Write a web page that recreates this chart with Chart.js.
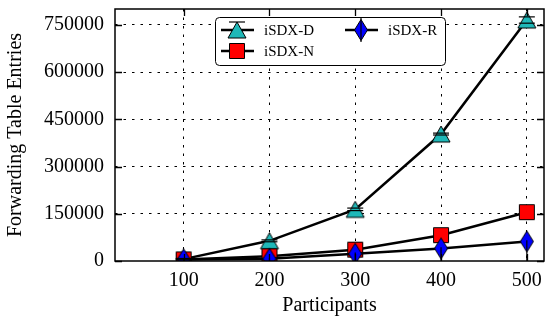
<!DOCTYPE html>
<html>
<head>
<meta charset="utf-8">
<script src="https://cdn.jsdelivr.net/npm/chart.js@4/dist/chart.umd.min.js"></script>
<style>
  html, body { margin: 0; padding: 0; background: #fff; }
  #wrap { width: 545px; height: 320px; }
</style>
</head>
<body>
<div id="wrap"><canvas id="chart" width="545" height="320"></canvas></div>
<script>
// data
const participants = [100, 200, 300, 400, 500];
const isdxD = [6000, 64000, 164000, 403000, 765000];
const isdxN = [5000, 15000, 36000, 82000, 155000];
const isdxR = [5000, 7000, 23000, 40000, 62000];
// error bars (below / above the value)
const dErr = [2000, 3000, 4000, 3000, 10000];
const rErrLow = [5000, 7000, 23000, 40000, 62000];
const rErrHigh = [2000, 3000, 4000, 4000, 4000];
const yTicks = [0, 150000, 300000, 450000, 600000, 750000];

const FONT = "'Liberation Serif', 'DejaVu Serif', serif";

// marker images, centred on their bounding box like matplotlib does
function makeMarker(kind, fill) {
  const c = document.createElement("canvas");
  c.width = 26; c.height = 26;
  const g = c.getContext("2d");
  const m = 13;
  g.beginPath();
  if (kind === "tri") {
    g.moveTo(m, m - 8); g.lineTo(m + 9, m + 8); g.lineTo(m - 9, m + 8);
  } else if (kind === "sq") {
    g.rect(m - 7.5, m - 7.5, 15, 15);
  } else {
    g.moveTo(m, m - 10.5); g.lineTo(m + 6.5, m); g.lineTo(m, m + 10.5); g.lineTo(m - 6.5, m);
  }
  g.closePath();
  g.fillStyle = fill;
  g.fill();
  g.lineWidth = 1;
  g.strokeStyle = "#000";
  g.stroke();
  return c;
}
const triMark = makeMarker("tri", "#1fb8b8");
const sqMark = makeMarker("sq", "#ff0000");
const diaMark = makeMarker("dia", "#0000ff");

function pts(vals) {
  return participants.map((p, i) => ({ x: p, y: vals[i] }));
}

// frame, inward ticks, error bars, legend
const extras = {
  id: "extras",
  afterDatasetsDraw(chart) {
    const { ctx, chartArea: a, scales: { x, y } } = chart;
    ctx.save();
    ctx.beginPath();
    ctx.rect(a.left, a.top, a.right - a.left, a.bottom - a.top);
    ctx.clip();
    ctx.strokeStyle = "#000";
    ctx.lineWidth = 1.2;
    participants.forEach((p, i) => {
      const px = x.getPixelForValue(p);
      // iSDX-R vertical bars
      const lo = y.getPixelForValue(isdxR[i] - rErrLow[i]);
      const hi = y.getPixelForValue(isdxR[i] + rErrHigh[i]);
      ctx.beginPath(); ctx.moveTo(px, lo); ctx.lineTo(px, hi); ctx.stroke();
      // iSDX-D caps
      [isdxD[i] - dErr[i], isdxD[i] + dErr[i]].forEach(v => {
        const py = y.getPixelForValue(v);
        ctx.beginPath(); ctx.moveTo(px - 8, py); ctx.lineTo(px + 8, py); ctx.stroke();
      });
    });
    ctx.restore();
  },
  afterDraw(chart) {
    const { ctx, chartArea: a, scales: { x, y } } = chart;
    ctx.save();
    ctx.strokeStyle = "#000";
    ctx.lineWidth = 1.3;
    // inward ticks on all four sides
    const tl = 7;
    participants.forEach(p => {
      const px = Math.round(x.getPixelForValue(p)) + 0.5;
      ctx.beginPath();
      ctx.moveTo(px, a.bottom); ctx.lineTo(px, a.bottom - tl);
      ctx.moveTo(px, a.top); ctx.lineTo(px, a.top + tl);
      ctx.stroke();
    });
    yTicks.forEach(v => {
      const py = Math.round(y.getPixelForValue(v)) + 0.5;
      ctx.beginPath();
      ctx.moveTo(a.left, py); ctx.lineTo(a.left + tl, py);
      ctx.moveTo(a.right, py); ctx.lineTo(a.right - tl, py);
      ctx.stroke();
    });
    ctx.lineWidth = 1.5;
    ctx.strokeRect(a.left, a.top, a.right - a.left, a.bottom - a.top);

    // legend box
    ctx.beginPath();
    ctx.roundRect(215.5, 17.5, 230, 48, 4);
    ctx.fillStyle = "#fff";
    ctx.fill();
    ctx.lineWidth = 1;
    ctx.stroke();
    const items = [
      { label: "iSDX-D", mark: triMark, x0: 221, y0: 30, kind: "D" },
      { label: "iSDX-R", mark: diaMark, x0: 345, y0: 30, kind: "R" },
      { label: "iSDX-N", mark: sqMark, x0: 221, y0: 51, kind: "N" }
    ];
    ctx.font = "15px " + FONT;
    ctx.textBaseline = "middle";
    ctx.textAlign = "left";
    items.forEach(it => {
      const cx = it.x0 + 16;
      ctx.lineWidth = 2.5;
      ctx.beginPath(); ctx.moveTo(it.x0, it.y0); ctx.lineTo(it.x0 + 33, it.y0); ctx.stroke();
      ctx.drawImage(it.mark, cx - 13, it.y0 - 13);
      ctx.lineWidth = 1.2;
      if (it.kind === "D") {
        ctx.beginPath(); ctx.moveTo(cx - 8, it.y0 - 8); ctx.lineTo(cx + 8, it.y0 - 8); ctx.stroke();
      } else if (it.kind === "R") {
        ctx.beginPath(); ctx.moveTo(cx, it.y0 - 12); ctx.lineTo(cx, it.y0 + 12); ctx.stroke();
      }
      ctx.fillStyle = "#000";
      ctx.fillText(it.label, it.x0 + 43, it.y0 + 1);
    });
    ctx.restore();
  }
};

function lineSet(label, vals, mark, order) {
  return {
    label,
    data: pts(vals),
    borderColor: "#000",
    borderWidth: 2.5,
    pointStyle: mark,
    // tiny radius: the marker image keeps its own size, but no extra layout padding
    pointRadius: 0.5,
    pointHoverRadius: 0.5,
    pointBorderWidth: 0,
    tension: 0,
    order
  };
}

new Chart(document.getElementById("chart"), {
  type: "line",
  data: {
    datasets: [
      lineSet("iSDX-D", isdxD, triMark, 3),
      lineSet("iSDX-N", isdxN, sqMark, 2),
      lineSet("iSDX-R", isdxR, diaMark, 1)
    ]
  },
  options: {
    responsive: false,
    animation: false,
    events: [],
    layout: { padding: { top: 9, right: 1, left: 0, bottom: 0 } },
    plugins: { legend: { display: false }, tooltip: { enabled: false } },
    scales: {
      x: {
        type: "linear",
        min: 20,
        max: 520,
        afterBuildTicks: s => { s.ticks = participants.map(v => ({ value: v })); },
        afterFit: s => { s.height = 59; s.paddingLeft = 0; s.paddingRight = 0; },
        ticks: { color: "#000", padding: 8, font: { family: FONT, size: 20 }, callback: v => String(v) },
        grid: { color: "#000", lineWidth: 1, drawTicks: false },
        border: { display: false, dash: [2.5, 6] },
        title: {
          display: true,
          text: "Participants",
          color: "#000",
          font: { family: FONT, size: 20 },
          padding: { top: 0, bottom: 2 }
        }
      },
      y: {
        min: 0,
        max: 800000,
        afterBuildTicks: s => { s.ticks = yTicks.map(v => ({ value: v })); },
        afterFit: s => { s.width = 115; s.paddingTop = 0; s.paddingBottom = 0; },
        ticks: { color: "#000", padding: 11, font: { family: FONT, size: 20 }, callback: v => String(v) },
        grid: {
          color: c => (c.tick && c.tick.value === 0 ? "rgba(0,0,0,0)" : "#000"),
          lineWidth: 1,
          drawTicks: false
        },
        border: { display: false, dash: [2.5, 6] },
        title: {
          display: true,
          text: "Forwarding Table Entries",
          color: "#000",
          font: { family: FONT, size: 20 },
          padding: { top: 4, bottom: 0 }
        }
      }
    }
  },
  plugins: [extras]
});
</script>
</body>
</html>
